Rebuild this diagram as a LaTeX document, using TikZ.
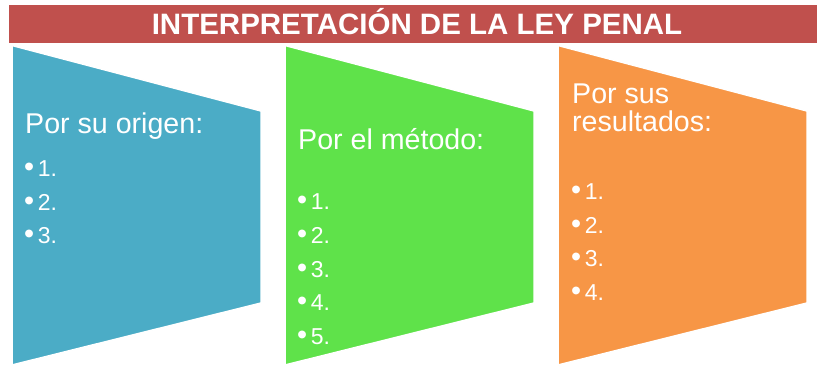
\documentclass[tikz,border=0pt]{standalone}
\usepackage{fontspec}
\setmainfont{Liberation Sans}
\definecolor{titlered}{HTML}{C0504D}
\definecolor{origblue}{HTML}{4BACC6}
\definecolor{metgreen}{HTML}{5FE24A}
\definecolor{resorange}{HTML}{F79646}
\newcommand{\panelwidth}{249}
\newcommand{\itemgap}{33.5}

\begin{document}
\begin{tikzpicture}[x=1pt,y=-1pt,
	heading/.style={anchor=base west, inner sep=0pt, text=white, font=\fontsize{28.6}{28.3}\selectfont, align=left},
	item/.style={anchor=base west, inner sep=0pt, text=white, font=\fontsize{23}{26}\selectfont}]
				\useasboundingbox (0,0) rectangle (817,366);
				% Draw the title bar
				\fill [titlered] (9,5) rectangle (817,43);
				\node [anchor=base, inner sep=0pt, text=white, font=\fontsize{29.5}{30}\selectfont\bfseries] (title) at (417,35) {INTERPRETACIÓN DE LA LEY PENAL};
				% Draw the 3 panels
				\foreach \px/\pcol in {12/origblue, 285/metgreen, 558/resorange}
					\filldraw [fill=\pcol, draw=white, line width=1.5pt] (\px,45.5) -- ++(\panelwidth,65.5) -- ++(0,192) -- ++(-\panelwidth,62) -- cycle;
				% label of the first panel
				\node [heading] (origen) at (25,133.3) {Por su origen:};
				\foreach \i in {1,...,3}
					\node [item] (origen\i) at (24,{176.7+\itemgap*(\i-1)}) {\scalebox{1.25}{\textbullet}\hspace{3.5pt}\i.};
				% label of the second panel
				\node [heading] (metodo) at (298,150) {Por el método:};
				\foreach \i in {1,...,5}
					\node [item] (metodo\i) at (297,{210+\itemgap*(\i-1)}) {\scalebox{1.25}{\textbullet}\hspace{3.5pt}\i.};
				% label of the third panel
				\node [heading] (result) at (572,131.7) {Por sus\\resultados:};
				\foreach \i in {1,...,4}
					\node [item] (result\i) at (571,{200+\itemgap*(\i-1)}) {\scalebox{1.25}{\textbullet}\hspace{3.5pt}\i.};
				\end{tikzpicture}
\end{document}
